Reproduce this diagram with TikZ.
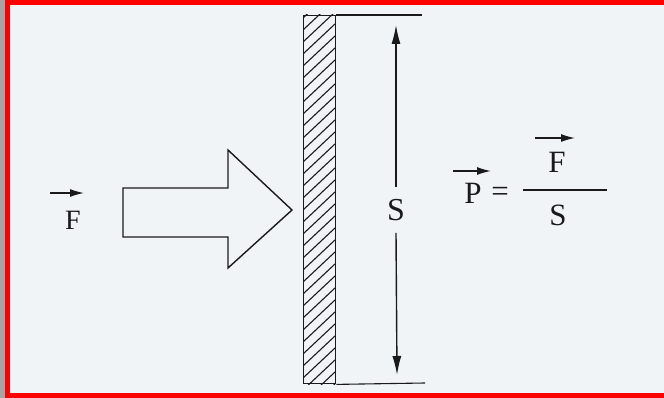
\documentclass[tikz,border=0pt]{standalone}
\usepackage{fontspec}
\setmainfont{Liberation Serif}
\usetikzlibrary{arrows.meta}
\definecolor{bg}{HTML}{F0F4F7}
\definecolor{ink}{HTML}{1A1A1A}
\definecolor{frame}{HTML}{FF0000}
\definecolor{edge}{HTML}{A8A4A4}
\tikzset{
  outline/.style={draw=ink, line width=1.4pt, line join=miter},
  vec/.style={draw=ink, line width=1.4pt, -{Latex[length=14pt,width=8pt]}},
  dimarrow/.style={draw=ink, line width=1.4pt, -{Latex[length=19pt,width=9pt]}},
  lbl/.style={inner sep=0pt, text=ink, font=\fontsize{31}{33}\selectfont},
  wallbox/.style={draw=ink, line width=1.4pt, minimum width=32pt, minimum height=368pt, inner sep=0pt, anchor=north west},
}
\begin{document}
\begin{tikzpicture}[x=1pt,y=-1pt]
  \useasboundingbox (0,0) rectangle (664,398);
  % background and frame
  \fill[bg] (0,0) rectangle (664,398);
  \fill[edge] (0,0) rectangle (5,398);
  \fill[frame] (5,0) rectangle (10,398);
  \fill[frame] (5,0) rectangle (664,5);
  \fill[frame] (5,393) rectangle (664,398);

  % wall with hatching
  \node[wallbox] (wall) at (303,15) {};
  \begin{scope}
    \clip (wall.north west) rectangle (wall.south east);
    \foreach \k in {-48,-36,...,410}
      \draw[ink, line width=1.1pt] (303,\k+30) -- (335,\k);
  \end{scope}
  \node[wallbox] at (303,15) {};

  % extension lines
  \coordinate (topend) at (422,15);
  \coordinate (botend) at (425,383);
  \draw[outline, line width=1.1pt] (wall.north east) -- (topend);
  \draw[outline, line width=1.1pt] (wall.south east) -- (botend);

  % dimension S
  \node[lbl, font=\fontsize{32}{34}\selectfont] (S) at (396,210) {S};
  \coordinate (dimtop) at (396,25);
  \coordinate (dimbot) at (397,375);
  \draw[dimarrow] ([yshift=12pt]S.north) -- (dimtop);
  \draw[dimarrow] ([yshift=-12pt]S.south) -- (dimbot);

  % big force arrow
  \draw[outline] (123,188) -- (228,188) -- (228,150) -- (292,210) -- (228,268) -- (228,237) -- (123,237) -- cycle;

  % force label
  \node[lbl, font=\fontsize{28}{30}\selectfont] (F) at (73,220) {F};
  \coordinate (Fa) at (50,193);
  \coordinate (Fb) at (84,193);
  \draw[vec] (Fa) -- (Fb);

  % formula
  \node[lbl] (P) at (473,193) {P};
  \coordinate (Pa) at (453,171);
  \coordinate (Pb) at (491,171);
  \draw[vec] (Pa) -- (Pb);
  \node[lbl] (eq) at (500,194) {=};
  \coordinate (fracL) at (523,190);
  \coordinate (fracR) at (607,190);
  \draw[outline, line width=1.3pt] (fracL) -- (fracR);
  \node[lbl] (Fn) at (557,162) {F};
  \coordinate (Fna) at (535,138);
  \coordinate (Fnb) at (575,138);
  \draw[vec] (Fna) -- (Fnb);
  \node[lbl] (Sd) at (558,215) {S};
\end{tikzpicture}
\end{document}
